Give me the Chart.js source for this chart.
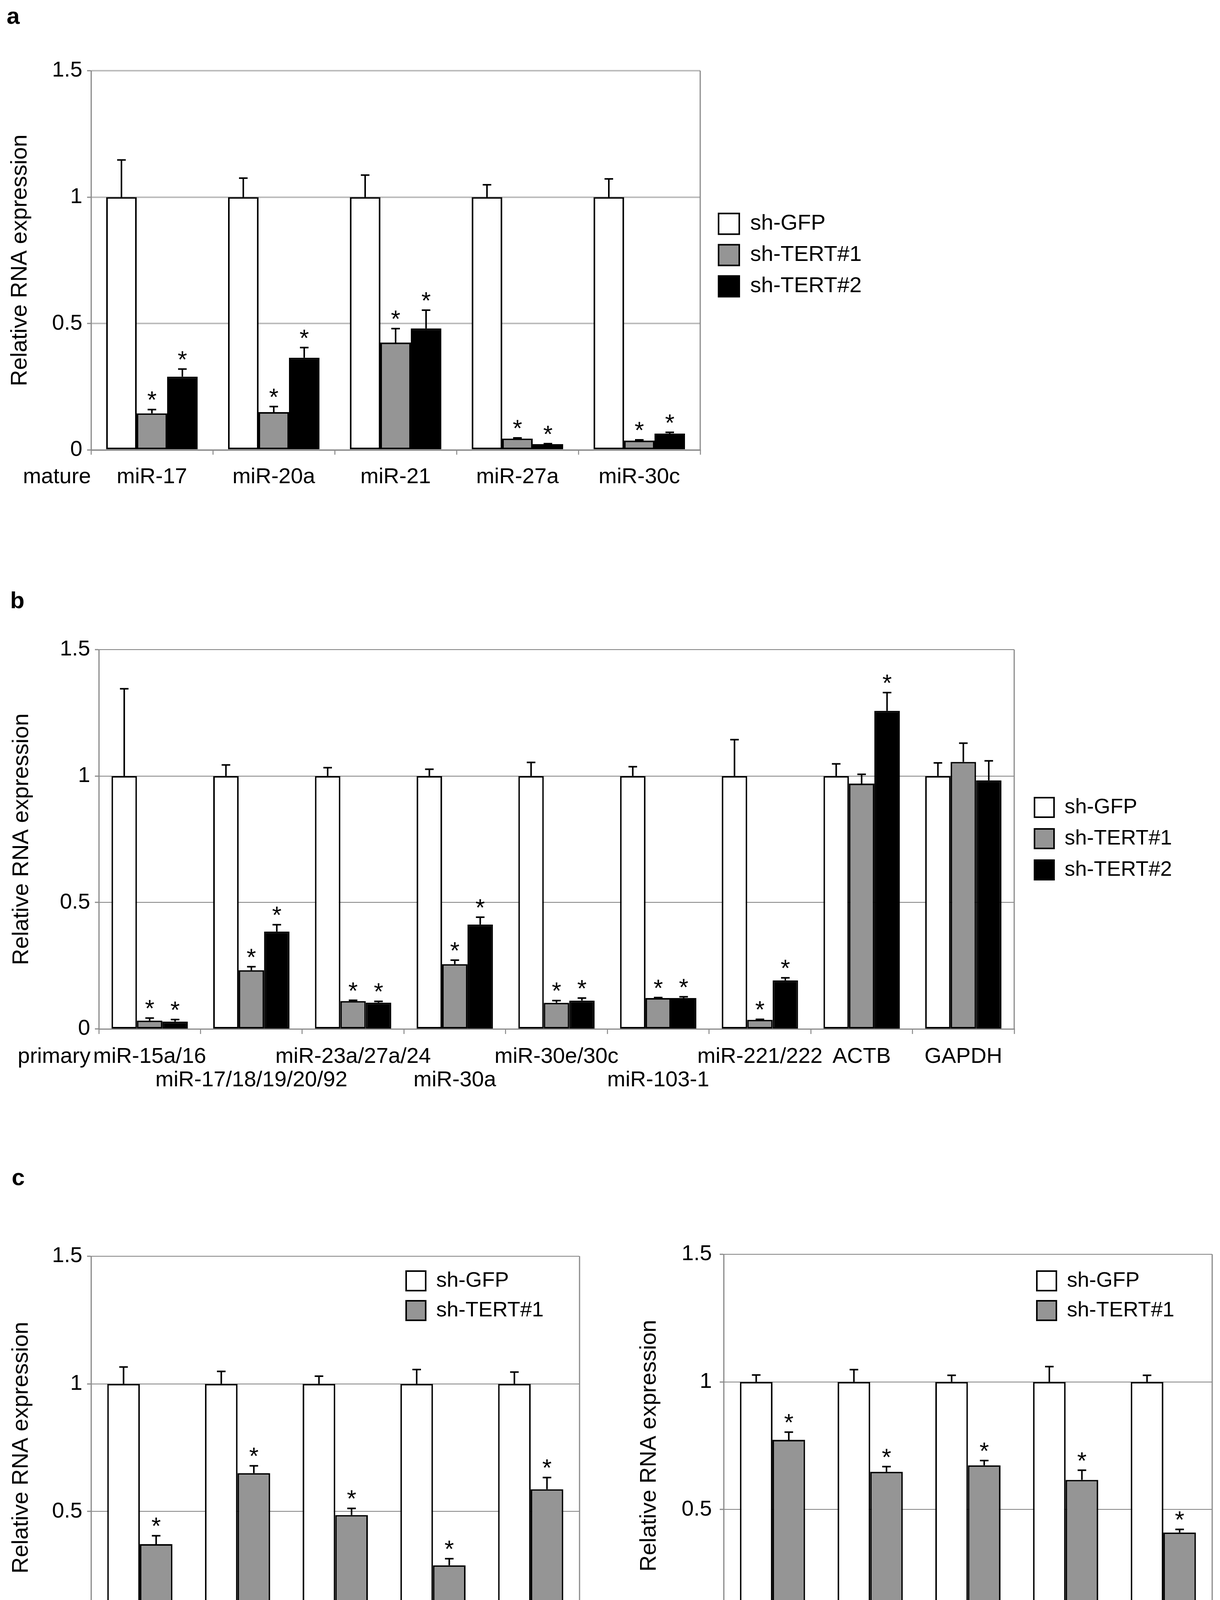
<!DOCTYPE html>
<html>
<head>
<meta charset="utf-8">
<script src="https://cdn.jsdelivr.net/npm/chart.js@4.4.1/dist/chart.umd.min.js"></script>
<style>
  body { margin: 0; background: #fff; }
  #page { position: relative; width: 3124px; height: 4352px; background: #fff; }
  canvas { position: absolute; }
  .tag { position: absolute; font: bold 60px "Liberation Sans", Arial, sans-serif; line-height: 60px; color: #000; }
</style>
</head>
<body>
<div id="page">
  <canvas id="chartA" width="2400" height="1330" style="left:0;top:0"></canvas>
  <canvas id="chartB" width="3124" height="1450" style="left:0;top:1400px"></canvas>
  <canvas id="chartC1" width="1560" height="1352" style="left:0;top:3000px"></canvas>
  <canvas id="chartC2" width="1564" height="1352" style="left:1560px;top:3000px"></canvas>
  <div class="tag" style="left:17px;top:11px">a</div>
  <div class="tag" style="left:26px;top:1507px">b</div>
  <div class="tag" style="left:30px;top:2984px">c</div>
</div>
<script>
// series
var seriesNames = ['sh-GFP', 'sh-TERT#1', 'sh-TERT#2'];
var seriesFill = ['#ffffff', '#959595', '#000000'];

// panel a: mature miRNAs
var aCategories = ['miR-17', 'miR-20a', 'miR-21', 'miR-27a', 'miR-30c'];
var aGfp = [1, 1, 1, 1, 1];
var aGfpErr = [0.147, 0.075, 0.087, 0.049, 0.072];
var aTert1 = [0.145, 0.15, 0.425, 0.045, 0.037];
var aTert1Err = [0.015, 0.022, 0.055, 0.003, 0.003];
var aTert2 = [0.29, 0.365, 0.481, 0.023, 0.065];
var aTert2Err = [0.03, 0.04, 0.072, 0.002, 0.005];
var aTert1Star = [1, 1, 1, 1, 1];
var aTert2Star = [1, 1, 1, 1, 1];

// panel b: primary transcripts (row = which label line)
var bCategories = ['miR-15a/16', 'miR-17/18/19/20/92', 'miR-23a/27a/24', 'miR-30a', 'miR-30e/30c', 'miR-103-1', 'miR-221/222', 'ACTB', 'GAPDH'];
var bRows = [0, 1, 0, 1, 0, 1, 0, 0, 0];
var bGfp = [1, 1, 1, 1, 1, 1, 1, 1, 1];
var bGfpErr = [0.345, 0.044, 0.033, 0.027, 0.054, 0.037, 0.144, 0.048, 0.052];
var bTert1 = [0.033, 0.232, 0.11, 0.256, 0.103, 0.122, 0.036, 0.97, 1.056];
var bTert1Err = [0.01, 0.014, 0.003, 0.016, 0.009, 0.002, 0.002, 0.037, 0.074];
var bTert2 = [0.029, 0.385, 0.104, 0.413, 0.112, 0.122, 0.192, 1.258, 0.983];
var bTert2Err = [0.008, 0.027, 0.005, 0.029, 0.01, 0.005, 0.01, 0.072, 0.077];
var bTert1Star = [1, 1, 1, 1, 1, 1, 1, 0, 0];
var bTert2Star = [1, 1, 1, 1, 1, 1, 1, 1, 0];

// panel c: mature and precursor
var cCategories = ['miR-15a', 'miR-21', 'miR-30a', 'miR-103-1', 'miR-221'];
var cRows = [0, 1, 0, 1, 0];
var cMatGfp = [1, 1, 1, 1, 1];
var cMatGfpErr = [0.066, 0.049, 0.03, 0.056, 0.046];
var cMatTert1 = [0.372, 0.65, 0.486, 0.289, 0.587];
var cMatTert1Err = [0.033, 0.029, 0.026, 0.026, 0.046];
var cPreGfp = [1, 1, 1, 1, 1];
var cPreGfpErr = [0.027, 0.048, 0.026, 0.06, 0.026];
var cPreTert1 = [0.773, 0.648, 0.673, 0.616, 0.41];
var cPreTert1Err = [0.03, 0.02, 0.019, 0.038, 0.012];
var cStar = [1, 1, 1, 1, 1];

var yTicks = [0, 0.5, 1, 1.5];

Chart.defaults.font.family = '"Liberation Sans", Arial, Helvetica, sans-serif';
Chart.defaults.color = '#000';

function stagger(names, rows) {
    return names.map(function (n, i) { return rows[i] ? ['', n] : n; });
}

function bars(k, values, errors, stars) {
    return {
        label: seriesNames[k],
        data: values,
        errors: errors,
        stars: stars,
        backgroundColor: seriesFill[k],
        borderColor: '#000',
        borderWidth: 4,
        borderSkipped: false
    };
}

// error bars + significance stars, drawn from the bar elements
var errorBars = {
    id: 'errorBars',
    afterDatasetsDraw: function (chart) {
        var ctx = chart.ctx, y = chart.scales.y;
        ctx.save();
        ctx.strokeStyle = '#000';
        ctx.fillStyle = '#000';
        ctx.lineWidth = 4;
        ctx.font = '62px "Liberation Sans", Arial, sans-serif';
        ctx.textAlign = 'center';
        ctx.textBaseline = 'alphabetic';
        chart.data.datasets.forEach(function (ds, i) {
            chart.getDatasetMeta(i).data.forEach(function (bar, j) {
                var top = y.getPixelForValue(ds.data[j] + ds.errors[j]);
                ctx.beginPath();
                ctx.moveTo(bar.x, bar.y);
                ctx.lineTo(bar.x, top);
                ctx.moveTo(bar.x - 11, top);
                ctx.lineTo(bar.x + 11, top);
                ctx.stroke();
                if (ds.stars && ds.stars[j]) {
                    ctx.fillText('*', bar.x, top - 4);
                }
            });
        });
        ctx.restore();
    }
};

// right edge of the plot frame
var frame = {
    id: 'frame',
    beforeDatasetsDraw: function (chart, args, opts) {
        var a = chart.chartArea, ctx = chart.ctx;
        ctx.save();
        ctx.strokeStyle = opts.color;
        ctx.lineWidth = opts.width;
        ctx.beginPath();
        ctx.moveTo(a.right, a.top);
        ctx.lineTo(a.right, a.bottom);
        ctx.stroke();
        ctx.restore();
    }
};

// "mature" / "primary" / "precursor" in front of the category labels
var axisNote = {
    id: 'axisNote',
    afterDraw: function (chart, args, opts) {
        var ctx = chart.ctx;
        ctx.save();
        ctx.fillStyle = '#000';
        ctx.font = opts.size + 'px "Liberation Sans", Arial, sans-serif';
        ctx.textAlign = 'right';
        ctx.textBaseline = 'middle';
        ctx.fillText(opts.text, chart.chartArea.left - opts.gap, chart.chartArea.bottom + opts.dy);
        ctx.restore();
    }
};

// put the legend where the original has it
var placeLegend = {
    id: 'placeLegend',
    afterLayout: function (chart, args, opts) {
        var lg = chart.legend;
        if (!lg) return;
        var pad = lg.options.labels.padding;
        lg.left = opts.left - pad;
        lg.top = opts.top - pad;
        lg.right = lg.left + lg.width;
        lg.bottom = lg.top + lg.height;
    }
};

function makeChart(id, labels, datasets, o) {
    return new Chart(document.getElementById(id), {
        type: 'bar',
        data: { labels: labels, datasets: datasets },
        options: {
            responsive: false,
            animation: false,
            devicePixelRatio: 1,
            layout: { padding: o.padding },
            datasets: { bar: { categoryPercentage: o.catPct, barPercentage: 1.0 } },
            plugins: {
                tooltip: { enabled: false },
                legend: {
                    position: 'chartArea',
                    align: 'start',
                    labels: {
                        boxWidth: o.box,
                        boxHeight: o.box,
                        padding: o.legendPad,
                        color: '#000',
                        font: { size: o.legendFont }
                    }
                },
                placeLegend: { left: o.legendX, top: o.legendY },
                frame: { color: '#8a8a8a', width: 3 },
                axisNote: { text: o.note, gap: o.noteGap, dy: o.noteDy, size: o.xFont }
            },
            scales: {
                x: {
                    grid: { drawOnChartArea: false, drawTicks: true, tickLength: o.xTick, color: '#9a9a9a', lineWidth: 3, offset: true },
                    border: { color: '#8a8a8a', width: 3 },
                    ticks: {
                        autoSkip: false, maxRotation: 0, minRotation: 0,
                        padding: o.xPad, color: '#000',
                        font: { size: o.xFont, lineHeight: o.xLine }
                    },
                    afterFit: function (s) { s.height = o.xHeight; }
                },
                y: {
                    min: 0,
                    max: 1.5,
                    afterBuildTicks: function (s) { s.ticks = yTicks.map(function (v) { return { value: v }; }); },
                    grid: { color: o.gridColor, lineWidth: o.gridWidth, tickLength: 10, tickColor: '#8a8a8a', tickWidth: 3 },
                    border: { color: '#8a8a8a', width: 3 },
                    ticks: {
                        padding: o.yPad, color: '#000', font: { size: 56 },
                        callback: function (v) { return String(v); }
                    },
                    title: {
                        display: true,
                        text: 'Relative RNA expression',
                        color: '#000',
                        font: { size: 58 },
                        padding: { top: o.titlePad, bottom: 0 }
                    },
                    afterFit: function (s) { s.width = o.yWidth; }
                }
            }
        },
        plugins: [placeLegend, frame, errorBars, axisNote]
    });
}

document.addEventListener('DOMContentLoaded', function () {
    // panel a
    makeChart('chartA', aCategories, [
        bars(0, aGfp, aGfpErr),
        bars(1, aTert1, aTert1Err, aTert1Star),
        bars(2, aTert2, aTert2Err, aTert2Star)
    ], {
        padding: { left: 0, top: 181, right: 607, bottom: 28 },
        catPct: 0.75, yWidth: 233, titlePad: 17, yPad: 12,
        xHeight: 150, xTick: 12, xPad: 27, xFont: 56, xLine: 1.1,
        gridColor: '#bdbdbd', gridWidth: 4,
        box: 53, legendPad: 24, legendFont: 56, legendX: 1840, legendY: 545,
        note: 'mature', noteGap: 0, noteDy: 70
    });

    // panel b
    makeChart('chartB', stagger(bCategories, bRows), [
        bars(0, bGfp, bGfpErr),
        bars(1, bTert1, bTert1Err, bTert1Star),
        bars(2, bTert2, bTert2Err, bTert2Star)
    ], {
        padding: { left: 0, top: 263, right: 527, bottom: 36 },
        catPct: 0.75, yWidth: 253, titlePad: 21, yPad: 12,
        xHeight: 180, xTick: 13, xPad: 29, xFont: 56, xLine: 1.07,
        gridColor: '#7f7f7f', gridWidth: 2,
        box: 50, legendPad: 26, legendFont: 54, legendX: 2649, legendY: 640,
        note: 'primary', noteGap: 21, noteDy: 72
    });

    // panel c, mature
    makeChart('chartC1', stagger(cCategories, cRows), [
        bars(0, cMatGfp, cMatGfpErr),
        bars(1, cMatTert1, cMatTert1Err, cStar)
    ], {
        padding: { left: 0, top: 216, right: 76, bottom: 26 },
        catPct: 0.667, yWidth: 233, titlePad: 20, yPad: 12,
        xHeight: 130, xTick: 15, xPad: 38, xFont: 54, xLine: 0.85,
        gridColor: '#808080', gridWidth: 2,
        box: 50, legendPad: 22, legendFont: 54, legendX: 1040, legendY: 252,
        note: 'mature', noteGap: 24, noteDy: 76
    });

    // panel c, precursor
    makeChart('chartC2', stagger(cCategories, cRows), [
        bars(0, cPreGfp, cPreGfpErr),
        bars(1, cPreTert1, cPreTert1Err, cStar)
    ], {
        padding: { left: 0, top: 211, right: 20, bottom: 26 },
        catPct: 0.667, yWidth: 293, titlePad: 68, yPad: 20,
        xHeight: 135, xTick: 15, xPad: 38, xFont: 54, xLine: 0.85,
        gridColor: '#808080', gridWidth: 2,
        box: 50, legendPad: 22, legendFont: 54, legendX: 1095, legendY: 252,
        note: 'precursor', noteGap: 30, noteDy: 76
    });
});
</script>
</body>
</html>
